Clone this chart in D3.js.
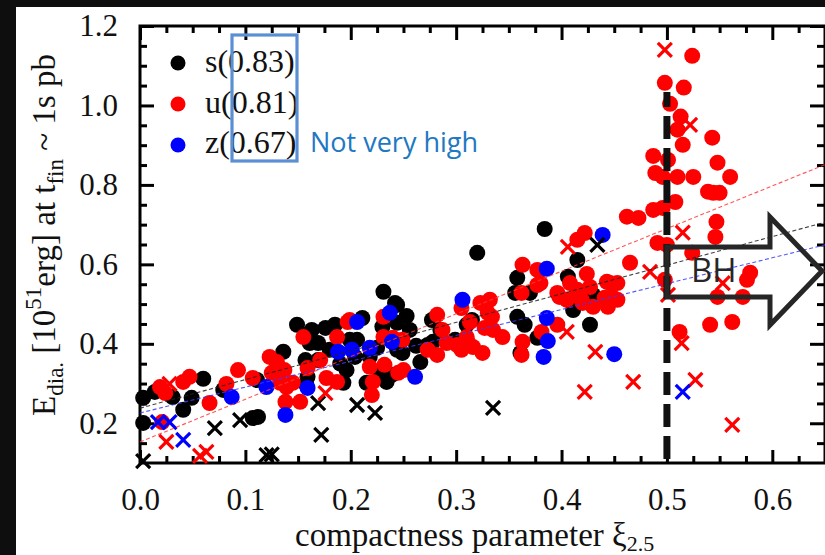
<!DOCTYPE html>
<html>
<head>
<meta charset="utf-8">
<script src="https://cdn.jsdelivr.net/npm/d3@7"></script>
<style>
  html, body { margin: 0; padding: 0; background: #fff; overflow: hidden; }
  svg { display: block; }
</style>
</head>
<body>
<svg id="chart" width="825" height="555"></svg>
<script>
// Explosion energy vs. compactness, three progenitor sets (s, u, z).
// Circles: successful explosions; crosses: runs that stop short of t_fin.
const sDots = [
  [0.003,0.264],[0.003,0.201],[0.014,0.279],[0.031,0.266],[0.041,0.234],[0.049,0.264],
  [0.060,0.312],[0.079,0.284],[0.107,0.213],[0.112,0.216],[0.111,0.309],[0.136,0.380],
  [0.149,0.448],[0.157,0.422],[0.157,0.359],[0.158,0.296],[0.161,0.402],[0.163,0.435],
  [0.169,0.402],[0.169,0.359],[0.159,0.317],[0.180,0.385],[0.185,0.448],[0.193,0.302],
  [0.196,0.334],[0.199,0.410],[0.206,0.410],[0.204,0.367],[0.211,0.465],[0.215,0.302],
  [0.218,0.367],[0.230,0.443],[0.231,0.531],[0.234,0.304],[0.239,0.322],[0.242,0.503],
  [0.244,0.498],[0.244,0.453],[0.244,0.385],[0.249,0.377],[0.256,0.435],[0.266,0.354],
  [0.273,0.397],[0.278,0.405],[0.277,0.460],[0.285,0.435],[0.299,0.410],[0.310,0.448],
  [0.315,0.460],[0.320,0.629],[0.356,0.528],[0.358,0.566],[0.358,0.468],[0.361,0.377],
  [0.365,0.448],[0.370,0.528],[0.377,0.415],[0.384,0.689],[0.406,0.569],[0.411,0.485],
  [0.415,0.611],[0.427,0.448],[0.430,0.523],
  [0.176,0.440],[0.190,0.350],[0.225,0.390],[0.228,0.330],[0.262,0.395],[0.253,0.470]
];
const uDots = [
  [0.019,0.291],[0.024,0.276],[0.021,0.203],[0.041,0.304],[0.047,0.317],[0.066,0.251],
  [0.082,0.299],[0.093,0.334],[0.107,0.314],[0.123,0.367],[0.130,0.354],[0.125,0.327],
  [0.137,0.334],[0.133,0.302],[0.139,0.291],[0.145,0.302],[0.138,0.254],[0.152,0.254],
  [0.155,0.417],[0.159,0.339],[0.171,0.359],[0.177,0.314],[0.187,0.304],[0.187,0.417],
  [0.197,0.455],[0.199,0.460],[0.218,0.342],[0.220,0.271],[0.221,0.304],[0.231,0.468],
  [0.231,0.417],[0.232,0.347],[0.240,0.415],[0.245,0.327],[0.249,0.410],[0.250,0.334],
  [0.273,0.385],[0.282,0.473],[0.282,0.372],[0.287,0.435],[0.291,0.402],[0.301,0.397],
  [0.305,0.490],[0.305,0.385],[0.310,0.417],[0.311,0.405],[0.313,0.455],[0.316,0.392],
  [0.323,0.503],[0.325,0.377],[0.327,0.440],[0.330,0.478],[0.332,0.511],[0.334,0.468],
  [0.335,0.435],[0.344,0.417],[0.363,0.405],[0.362,0.372],[0.362,0.528],[0.363,0.599],
  [0.377,0.548],[0.377,0.586],[0.380,0.553],[0.381,0.430],[0.396,0.448],[0.396,0.528],
  [0.398,0.518],[0.405,0.511],[0.408,0.553],[0.415,0.536],[0.415,0.662],[0.419,0.511],
  [0.420,0.503],[0.422,0.679],[0.424,0.576],[0.427,0.543],[0.430,0.493],[0.441,0.516],
  [0.443,0.556],[0.444,0.493],[0.446,0.553],[0.448,0.518],[0.453,0.553],[0.453,0.511],
  [0.462,0.720],[0.465,0.604],[0.473,0.717],[0.487,0.737],[0.496,0.742],[0.508,0.757],
  [0.487,0.873],[0.489,0.830],[0.491,0.654],[0.496,0.820],[0.498,1.057],[0.498,0.561],
  [0.500,0.649],[0.501,0.863],[0.503,1.004],[0.510,0.939],[0.510,0.820],[0.512,0.430],
  [0.513,0.972],[0.515,0.901],[0.516,1.045],[0.524,1.125],[0.524,0.629],[0.525,0.820],
  [0.539,0.783],[0.541,0.448],[0.543,0.919],[0.544,0.780],[0.546,0.669],[0.547,0.707],
  [0.548,0.856],[0.548,0.518],[0.550,0.780],[0.560,0.820],[0.562,0.455],[0.572,0.518],
  [0.576,0.561],[0.579,0.579]
];
const zDots = [
  [0.087,0.266],[0.120,0.291],[0.138,0.221],[0.159,0.289],[0.188,0.380],[0.201,0.385],
  [0.206,0.455],[0.218,0.390],[0.237,0.478],[0.239,0.405],[0.261,0.317],[0.306,0.511],
  [0.383,0.367],[0.386,0.589],[0.386,0.465],[0.387,0.407],[0.439,0.674],[0.450,0.374]
];
const sCross = [
  [0.003,0.105],[0.071,0.188],[0.095,0.208],[0.120,0.120],[0.125,0.122],[0.169,0.251],
  [0.172,0.171],[0.206,0.246],[0.223,0.226],[0.335,0.239],[0.434,0.649]
];
const uCross = [
  [0.028,0.299],[0.025,0.153],[0.057,0.118],[0.063,0.128],[0.176,0.276],[0.405,0.430],
  [0.406,0.644],[0.422,0.279],[0.432,0.380],[0.468,0.304],[0.484,0.581],[0.498,1.140],
  [0.501,0.523],[0.514,0.402],[0.515,0.680],[0.522,0.951],[0.527,0.309],[0.553,0.553],
  [0.562,0.196]
];
const zCross = [[0.017,0.203],[0.028,0.203],[0.041,0.158],[0.515,0.279]];

const seriesColors = ["#000000", "#ff0000", "#0000ff"];
const legendLabels = ["s(0.83)", "u(0.81)", "z(0.67)"];
// linear fits E = a + b * xi for s, u, z
const fitIntercepts = [0.238, 0.153, 0.226];
const fitSlopes = [0.720, 1.074, 0.651];
const fitColors = ["#222222", "#ff3a3a", "#3a3aff"];
const xMajor = [0, 0.1, 0.2, 0.3, 0.4, 0.5, 0.6];
const yMajor = [0.2, 0.4, 0.6, 0.8, 1.0, 1.2];
const bhThreshold = 0.5;

const svg = d3.select("#chart");
const plot = { left: 140, top: 26, right: 825, bottom: 463 };
const x = d3.scaleLinear().domain([0, 0.65]).range([plot.left, plot.right]);
const y = d3.scaleLinear().domain([0.1, 1.2]).range([plot.bottom, plot.top]);

// dark page edge
svg.append("rect").attr("x", 0).attr("y", 0).attr("width", 825).attr("height", 7).attr("fill", "#0e0e0e");
svg.append("rect").attr("x", 0).attr("y", 0).attr("width", 16).attr("height", 555).attr("fill", "#0e0e0e");

const serif = "'Liberation Serif', 'Times New Roman', serif";
const sans = "'Open Sans', 'Noto Sans', sans-serif";

// axes with inward ticks
const xMinor = d3.range(0, 0.651, 0.025).filter(v => Math.abs(v * 10 - Math.round(v * 10)) > 1e-6);
const yMinor = d3.range(0.15, 1.2, 0.05).filter(v => Math.abs(v * 5 - Math.round(v * 5)) > 1e-6);

function styleAxis(g) {
  g.select(".domain").remove();
  g.selectAll(".tick line").attr("stroke", "#000").attr("stroke-width", 3);
  g.selectAll(".tick text").attr("font-family", serif).attr("font-size", 31).attr("fill", "#111");
}

svg.append("g").attr("transform", `translate(0,${plot.bottom})`)
  .call(d3.axisBottom(x).tickValues(xMajor).tickSize(-13).tickPadding(25).tickFormat(d3.format(".1f")))
  .call(styleAxis);
svg.append("g").attr("transform", `translate(0,${plot.bottom})`)
  .call(d3.axisBottom(x).tickValues(xMinor).tickSize(-7).tickFormat(""))
  .call(styleAxis);
svg.append("g").attr("transform", `translate(0,${plot.top})`)
  .call(d3.axisTop(x).tickValues(xMajor).tickSize(-14).tickFormat(""))
  .call(styleAxis);
svg.append("g").attr("transform", `translate(0,${plot.top})`)
  .call(d3.axisTop(x).tickValues(xMinor).tickSize(-7).tickFormat(""))
  .call(styleAxis);
svg.append("g").attr("transform", `translate(${plot.left},0)`)
  .call(d3.axisLeft(y).tickValues(yMajor).tickSize(-14).tickPadding(22).tickFormat(d3.format(".1f")))
  .call(styleAxis);
svg.append("g").attr("transform", `translate(${plot.left},0)`)
  .call(d3.axisLeft(y).tickValues(yMinor).tickSize(-7).tickFormat(""))
  .call(styleAxis);
svg.append("g").attr("transform", `translate(${plot.right},0)`)
  .call(d3.axisRight(y).tickValues(yMajor).tickSize(-15).tickFormat(""))
  .call(styleAxis);
svg.append("g").attr("transform", `translate(${plot.right},0)`)
  .call(d3.axisRight(y).tickValues(yMinor).tickSize(-8).tickFormat(""))
  .call(styleAxis);

// frame
svg.append("rect")
  .attr("x", plot.left).attr("y", plot.top)
  .attr("width", plot.right - plot.left).attr("height", plot.bottom - plot.top)
  .attr("fill", "none").attr("stroke", "#000").attr("stroke-width", 3);

// data points
const dotSets = [sDots, uDots, zDots];
const crossSets = [sCross, uCross, zCross];
const marks = svg.append("g");
dotSets.forEach((set, i) => {
  marks.append("g").selectAll("circle").data(set).join("circle")
    .attr("cx", d => x(d[0])).attr("cy", d => y(d[1])).attr("r", 8)
    .attr("fill", seriesColors[i]);
});
const crossPath = "M-7,-7L7,7M-7,7L7,-7";
crossSets.forEach((set, i) => {
  marks.append("g").selectAll("path").data(set).join("path")
    .attr("transform", d => `translate(${x(d[0])},${y(d[1])})`)
    .attr("d", crossPath).attr("fill", "none")
    .attr("stroke", seriesColors[i]).attr("stroke-width", 3.2);
});

// linear fits
svg.append("clipPath").attr("id", "plotClip").append("rect")
  .attr("x", plot.left).attr("y", plot.top)
  .attr("width", plot.right - plot.left).attr("height", plot.bottom - plot.top);
const fitLine = d3.line().x(d => x(d[0])).y(d => y(d[1]));
const fits = svg.append("g").attr("clip-path", "url(#plotClip)");
fitIntercepts.forEach((a, i) => {
  const pts = x.domain().map(v => [v, a + fitSlopes[i] * v]);
  fits.append("path").attr("d", fitLine(pts))
    .attr("fill", "none").attr("stroke", fitColors[i]).attr("stroke-width", 1.1)
    .attr("stroke-dasharray", "4,2.5").attr("opacity", 0.85);
});

// black-hole boundary
svg.append("line")
  .attr("x1", x(bhThreshold)).attr("x2", x(bhThreshold))
  .attr("y1", 92).attr("y2", plot.bottom)
  .attr("stroke", "#111").attr("stroke-width", 7)
  .attr("stroke-dasharray", "23,9").attr("stroke-dashoffset", 8);

// BH arrow
const bx = x(bhThreshold);
const arrow = [[bx, 247], [770, 247], [770, 217], [822, 271], [770, 325], [770, 297], [bx, 297]];
svg.append("polygon")
  .attr("points", arrow.map(p => p.join(",")).join(" "))
  .attr("fill", "none").attr("stroke", "#262626").attr("stroke-width", 5)
  .attr("stroke-linejoin", "miter");
svg.append("text").attr("x", 691).attr("y", 282)
  .attr("font-family", sans).attr("font-size", 33).attr("fill", "#262626").text("BH");

// legend
const legend = svg.append("g");
legendLabels.forEach((lab, i) => {
  legend.append("circle").attr("cx", 178).attr("cy", 63 + i * 41).attr("r", 7.5).attr("fill", seriesColors[i]);
  legend.append("text").attr("x", 205).attr("y", 72 + i * 40.5)
    .attr("font-family", serif).attr("font-size", 32).attr("fill", "#111").text(lab);
});
legend.append("rect").attr("x", 232).attr("y", 35).attr("width", 65).attr("height", 126)
  .attr("fill", "none").attr("stroke", "#5b8fd4").attr("stroke-width", 3.2);
legend.append("text").attr("x", 310).attr("y", 152)
  .attr("font-family", sans).attr("font-size", 27).attr("fill", "#1e78c2").text("Not very high");

// axis titles
const xt = svg.append("text").attr("x", 295).attr("y", 546)
  .attr("font-family", serif).attr("font-size", 33).attr("fill", "#111");
xt.append("tspan").text("compactness parameter ξ");
xt.append("tspan").attr("font-size", 22).attr("dy", 5).text("2.5");

const yt = svg.append("text")
  .attr("transform", "translate(55,235) rotate(-90)")
  .attr("text-anchor", "middle")
  .attr("font-family", serif).attr("font-size", 33).attr("fill", "#111");
yt.append("tspan").text("E");
yt.append("tspan").attr("font-size", 23).attr("dy", 8).text("dia.");
yt.append("tspan").attr("dy", -8).text(" [10");
yt.append("tspan").attr("font-size", 23).attr("dy", -14).text("51");
yt.append("tspan").attr("dy", 14).text("erg] at t");
yt.append("tspan").attr("font-size", 23).attr("dy", 8).text("fin");
yt.append("tspan").attr("dy", -8).text(" ~ 1s pb");
</script>
</body>
</html>
